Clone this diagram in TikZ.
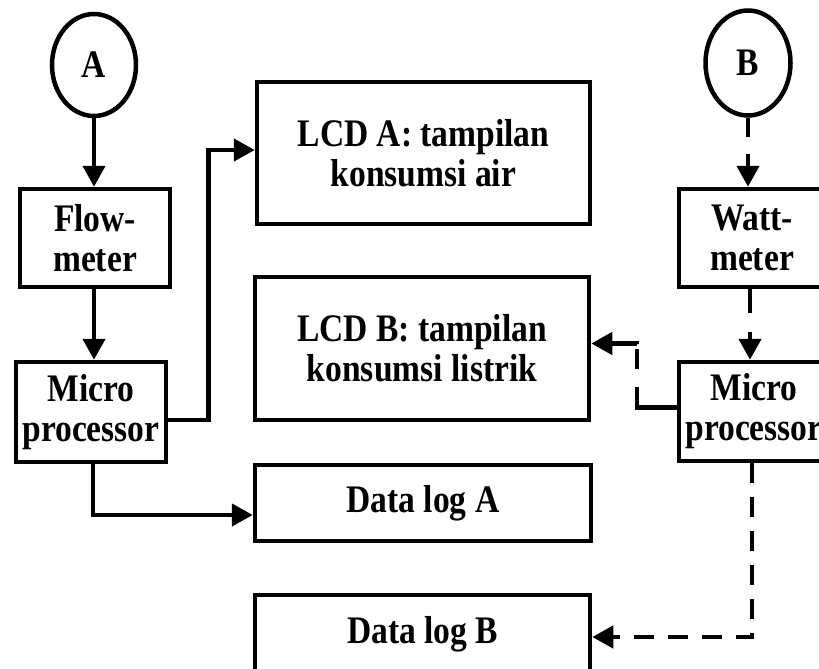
\documentclass[tikz,border=0pt]{standalone}
\usepackage{fontspec}
\setmainfont{Liberation Serif}[FakeStretch=0.86]
\usetikzlibrary{arrows.meta,calc,shapes.geometric}

\begin{document}
\begin{tikzpicture}[x=1pt,y=-1pt,
  every node/.style={font=\bfseries\fontsize{39}{40}\selectfont, align=center, inner sep=0pt},
  blok/.style={draw, line width=4.5pt, rectangle},
  term/.style={draw, line width=4.5pt, ellipse},
  conn/.style={line width=4.5pt, -{Triangle[length=21pt,width=22pt]}},
  dashconn/.style={conn, dash pattern=on 20pt off 14pt}
]
\useasboundingbox (0,0) rectangle (819,669);
\clip (0,0) rectangle (819,669);

% terminals
\node[term, minimum width=84pt, minimum height=102pt] (A) at (94,65) {A};
\node[term, minimum width=85pt, minimum height=105pt] (B) at (748,63) {B};

% left column
\node[blok, minimum width=150pt, minimum height=98pt]  (flow)   at (95,238)  {Flow-\\meter};
\node[blok, minimum width=150pt, minimum height=100pt] (microL) at (91,412)  {Micro\\processor};

% right column
\node[blok, minimum width=146pt, minimum height=98pt]  (watt)   at (752,238)   {Watt-\\meter};
\node[blok, minimum width=150pt, minimum height=99pt]  (microR) at (754,411.5) {Micro\\processor};

% middle column
\node[blok, minimum width=333pt, minimum height=142pt] (lcdA) at (423.5,153) {LCD A: tampilan\\konsumsi air};
\node[blok, minimum width=334pt, minimum height=143pt] (lcdB) at (422,348.5) {LCD B: tampilan\\konsumsi listrik};
\node[blok, minimum width=336pt, minimum height=76pt]  (logA) at (423,503)   {Data log A};
\node[blok, minimum width=335pt, minimum height=79pt]  (logB) at (422.5,634.5) {Data log B};

% water side (solid)
\draw[conn] (A.south) -- (A.south |- flow.north);
\draw[conn] (A.south |- flow.south) -- (A.south |- microL.north);
\draw[conn] ([yshift=-8pt]microL.east) -- ++(40,0) |- ([yshift=3pt]lcdA.west);
\draw[conn] ([xshift=2pt]microL.south) |- ([yshift=-12pt]logA.west);

% electricity side (dashed)
\draw[conn, dash pattern=on 19pt off 17pt] (B.south) -- (B.south |- watt.north);
\draw[conn, dash pattern=on 24pt off 19pt] ([xshift=2pt]B.south |- watt.south) -- ([xshift=2pt]B.south |- microR.north);
\draw[conn, dash pattern=on 61pt off 18pt on 20pt off 5pt on 60pt off 0pt] ([yshift=4pt]microR.west) -- ++(-40,0) |- ([yshift=5pt]lcdB.east);
\draw[dashconn] ([xshift=-2pt]microR.south) |- ([yshift=-2.5pt]logB.east);
\end{tikzpicture}
\end{document}
